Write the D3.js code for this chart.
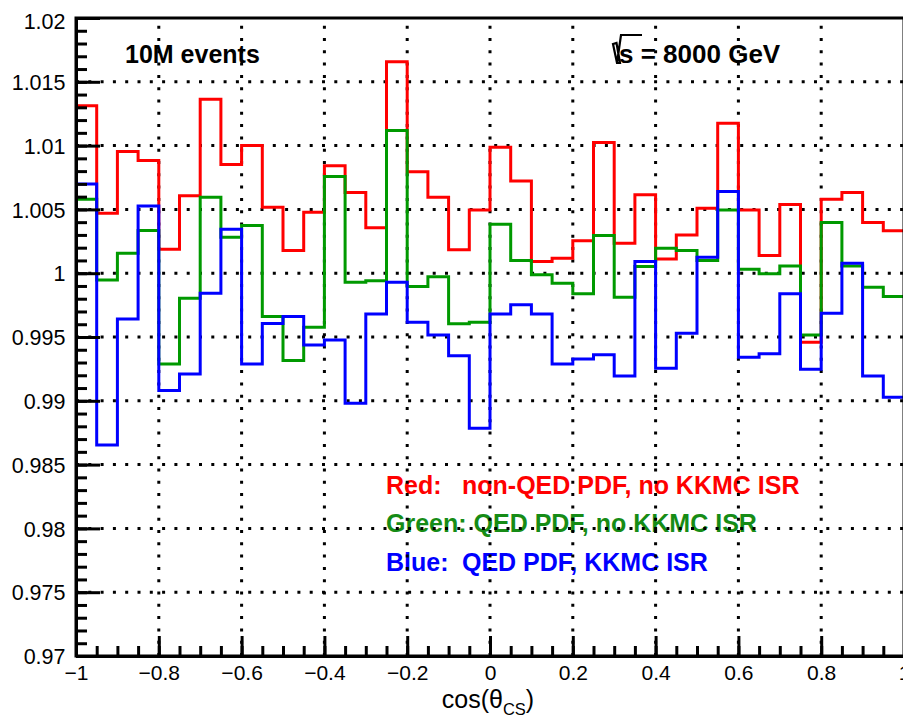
<!DOCTYPE html>
<html>
<head>
<meta charset="utf-8">
<script src="https://cdn.jsdelivr.net/npm/d3@7"></script>
<style>
  body { margin: 0; background: #fff; }
  svg { display: block; }
  text { font-family: "Liberation Sans", Arial, Helvetica, sans-serif; }
</style>
</head>
<body>
<svg id="chart" width="903" height="722"></svg>
<script>
/** binning of cos(theta_CS): 40 bins from -1 to 1 */
var nBins = 40;
var xMin = -1, xMax = 1;

/** ratio values, one per bin */
var redValues = [1.01313, 1.0047, 1.00953, 1.00883, 1.00188, 1.00606, 1.01364, 1.00851, 1.0100, 1.00517,
    1.00177, 1.00478, 1.00843, 1.00632, 1.00357, 1.01658, 1.00796, 1.00596, 1.00183, 1.00496,
    1.00987, 1.00723, 1.00091, 1.00118, 1.00255, 1.01024, 1.00235, 1.00614, 1.00112, 1.0030,
    1.00509, 1.01176, 1.00496, 1.00138, 1.00538, 0.99459, 1.0058, 1.00632, 1.00397, 1.00332];
var greenValues = [1.0058, 0.99947, 1.00157, 1.00334, 0.99289, 0.99804, 1.00596, 1.00282, 1.00373, 0.9966,
    0.99315, 0.99577, 1.00757, 0.99929, 0.9994, 1.01118, 0.99895, 0.99973, 0.99603, 0.99616,
    1.00384, 1.00099, 0.99987, 0.99922, 0.99838, 1.00295, 0.99812, 1.00052, 1.00196, 1.00177,
    1.00099, 1.00496, 1.00031, 0.99995, 1.00057, 0.99516, 1.00397, 1.00057, 0.9989, 0.99817];
var blueValues = [1.0070, 0.98654, 0.99642, 1.00527, 0.9908, 0.99211, 0.99843, 1.00345, 0.99289, 0.99605,
    0.9966, 0.99438, 0.99477, 0.98981, 0.99681, 0.99929, 0.99616, 0.99516, 0.99354, 0.98785,
    0.99681, 0.99752, 0.99681, 0.99289, 0.99328, 0.9936, 0.99195, 1.00091, 0.99255, 0.9953,
    1.00125, 1.0064, 0.99342, 0.99368, 0.99838, 0.99247, 0.99687, 1.00078, 0.99195, 0.99028];

/** tick labels */
var xTicks = [-1, -0.8, -0.6, -0.4, -0.2, 0, 0.2, 0.4, 0.6, 0.8, 1];
var xTickLabels = ["\u22121", "\u22120.8", "\u22120.6", "\u22120.4", "\u22120.2", "0", "0.2", "0.4", "0.6", "0.8", "1"];
var yTicks = [0.97, 0.975, 0.98, 0.985, 0.99, 0.995, 1, 1.005, 1.01, 1.015, 1.02];
var yTickLabels = ["0.97", "0.975", "0.98", "0.985", "0.99", "0.995", "1", "1.005", "1.01", "1.015", "1.02"];

var legendLines = [
    {key: "Red:", text: "non-QED PDF, no KKMC ISR", color: "#ff0000"},
    {key: "Green: QED PDF, no KKMC ISR", text: "", color: "#168c16"},
    {key: "Blue:", text: "QED PDF, KKMC ISR", color: "#0000ff"}
];

var svg = d3.select("#chart");
var frame = {left: 76, right: 904, top: 18, bottom: 656};

var x = d3.scaleLinear().domain([xMin, xMax]).range([frame.left, frame.right]);
var y = d3.scaleLinear().domain([0.97, 1.02]).range([frame.bottom, frame.top]);

svg.append("rect").attr("width", 903).attr("height", 722).attr("fill", "#fff");

/** text labels (grid dots sit on top of them in the original) */
var txt = svg.append("g").attr("font-weight", "bold").attr("font-size", "25px");
txt.append("text").attr("x", 125).attr("y", 63).text("10M events");

var sq = txt.append("g");
sq.append("text").attr("x", 619).attr("y", 63).attr("font-size", "26px").text("s = 8000 GeV");
sq.append("path")
    .attr("d", "M613,44 L616.5,43 L620,63 L617,63 Z M617,63 L621,35 L642,35")
    .attr("fill", "none").attr("stroke", "#000").attr("stroke-width", 2.2);

legendLines.forEach(function(d, i) {
    var by = 494 + i * 38.4;
    txt.append("text").attr("x", 386).attr("y", by).attr("fill", d.color).text(d.key);
    if (d.text !== "") {
        txt.append("text").attr("x", 462).attr("y", by).attr("fill", d.color).text(d.text);
    }
});

/** dotted grid */
var grid = svg.append("g")
    .attr("stroke", "#000").attr("stroke-width", 3).attr("stroke-dasharray", "3,9.3");
grid.selectAll(".gx").data(xTicks.slice(1, -1)).join("line")
    .attr("class", "gx")
    .attr("x1", function(d) { return x(d); }).attr("x2", function(d) { return x(d); })
    .attr("y1", frame.bottom).attr("y2", frame.top);
grid.selectAll(".gy").data(yTicks.slice(1, -1)).join("line")
    .attr("class", "gy")
    .attr("y1", function(d) { return y(d); }).attr("y2", function(d) { return y(d); })
    .attr("x1", frame.left).attr("x2", frame.right);

/** histograms drawn as steps */
var binWidth = (xMax - xMin) / nBins;
function stepPoints(values) {
    var pts = values.map(function(v, i) { return [xMin + i * binWidth, v]; });
    pts.push([xMax, values[values.length - 1]]);
    return pts;
}
var step = d3.line()
    .curve(d3.curveStepAfter)
    .x(function(d) { return x(d[0]); })
    .y(function(d) { return y(d[1]); });

var series = [
    {values: redValues, color: "#ff0000"},
    {values: greenValues, color: "#009900"},
    {values: blueValues, color: "#0000ff"}
];
svg.selectAll(".hist").data(series).join("path")
    .attr("class", "hist")
    .attr("fill", "none")
    .attr("stroke", function(d) { return d.color; })
    .attr("stroke-width", 3)
    .attr("d", function(d) { return step(stepPoints(d.values)); });

/** frame */
svg.append("rect")
    .attr("x", frame.left).attr("y", frame.top)
    .attr("width", frame.right - frame.left).attr("height", frame.bottom - frame.top)
    .attr("fill", "none").attr("stroke", "#000").attr("stroke-width", 3);

/** Y axis: ticks point into the frame */
var yMinor = d3.range(0, 51).map(function(i) { return 0.97 + i * 0.001; });
svg.append("g").attr("transform", "translate(" + frame.left + ",0)")
    .call(d3.axisLeft(y).tickValues(yMinor).tickSizeInner(-11).tickSizeOuter(0).tickFormat(""))
    .call(function(g) { g.select(".domain").remove(); g.selectAll("line").attr("stroke-width", 3); });
var yAxis = svg.append("g").attr("transform", "translate(" + frame.left + ",0)")
    .call(d3.axisLeft(y).tickValues(yTicks).tickSizeInner(-24).tickSizeOuter(0).tickPadding(10.5)
        .tickFormat(function(d, i) { return yTickLabels[i]; }));
yAxis.select(".domain").attr("stroke-width", 3);
yAxis.selectAll("line").attr("stroke-width", 3);
yAxis.selectAll("text").attr("font-size", "21.5px").attr("fill", "#000")
    .attr("font-family", "Liberation Sans, Arial, sans-serif").attr("dy", "0.36em");
// ROOT nudges the top label down to keep it inside the pad
yAxis.selectAll("text").filter(function(d) { return d === 1.02; }).attr("dy", "0.5em");

/** X axis */
var xMinor = d3.range(0, 41).map(function(i) { return xMin + i * 0.05; });
svg.append("g").attr("transform", "translate(0," + frame.bottom + ")")
    .call(d3.axisBottom(x).tickValues(xMinor).tickSizeInner(-10).tickSizeOuter(0).tickFormat(""))
    .call(function(g) { g.select(".domain").remove(); g.selectAll("line").attr("stroke-width", 3); });
var xAxis = svg.append("g").attr("transform", "translate(0," + frame.bottom + ")")
    .call(d3.axisBottom(x).tickValues(xTicks).tickSizeInner(-20).tickSizeOuter(0).tickPadding(9)
        .tickFormat(function(d, i) { return xTickLabels[i]; }));
xAxis.select(".domain").attr("stroke-width", 3);
xAxis.selectAll("line").attr("stroke-width", 3);
xAxis.selectAll("text").attr("font-size", "21px").attr("fill", "#000")
    .attr("font-family", "Liberation Sans, Arial, sans-serif");

/** axis title cos(theta_CS) */
var title = svg.append("text").attr("x", 488).attr("y", 708)
    .attr("text-anchor", "middle").attr("font-size", "25px");
title.append("tspan").text("cos(\u03b8");
title.append("tspan").attr("font-size", "16.5px").attr("dy", 7).text("CS");
title.append("tspan").attr("dy", -7).text(")");
</script>
</body>
</html>
